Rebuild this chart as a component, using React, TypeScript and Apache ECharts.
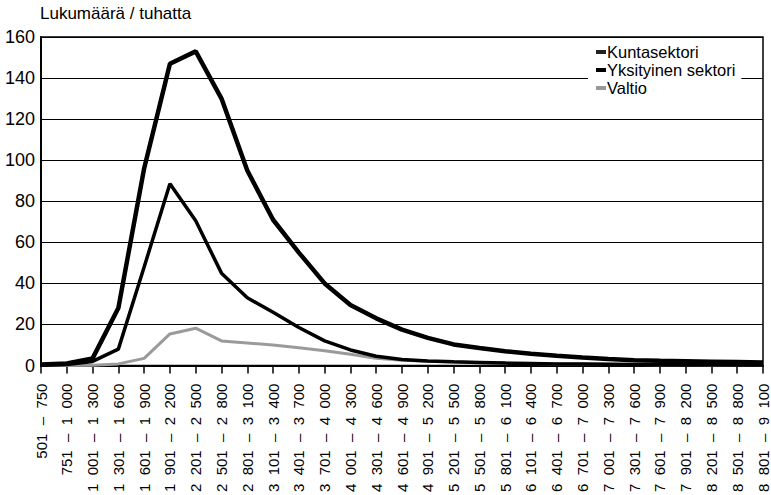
import React, { useEffect, useRef } from "react";
import * as echarts from "echarts";

const FS = "\u2007"; // thousands separator (figure space)
const lab = (a: string, b: string) => `${a}${FS}–${FS}${b}`;

const categories = [
  lab("501", "750"),
  lab("751", `1${FS}000`),
  lab(`1${FS}001`, `1${FS}300`),
  lab(`1${FS}301`, `1${FS}600`),
  lab(`1${FS}601`, `1${FS}900`),
  lab(`1${FS}901`, `2${FS}200`),
  lab(`2${FS}201`, `2${FS}500`),
  lab(`2${FS}501`, `2${FS}800`),
  lab(`2${FS}801`, `3${FS}100`),
  lab(`3${FS}101`, `3${FS}400`),
  lab(`3${FS}401`, `3${FS}700`),
  lab(`3${FS}701`, `4${FS}000`),
  lab(`4${FS}001`, `4${FS}300`),
  lab(`4${FS}301`, `4${FS}600`),
  lab(`4${FS}601`, `4${FS}900`),
  lab(`4${FS}901`, `5${FS}200`),
  lab(`5${FS}201`, `5${FS}500`),
  lab(`5${FS}501`, `5${FS}800`),
  lab(`5${FS}801`, `6${FS}100`),
  lab(`6${FS}101`, `6${FS}400`),
  lab(`6${FS}401`, `6${FS}700`),
  lab(`6${FS}701`, `7${FS}000`),
  lab(`7${FS}001`, `7${FS}300`),
  lab(`7${FS}301`, `7${FS}600`),
  lab(`7${FS}601`, `7${FS}900`),
  lab(`7${FS}901`, `8${FS}200`),
  lab(`8${FS}201`, `8${FS}500`),
  lab(`8${FS}501`, `8${FS}800`),
  lab(`8${FS}801`, `9${FS}100`),
];

const kuntasektori = [0.2, 0.5, 2, 8, 48, 88.5, 70.5, 45, 33, 26, 18.5, 12, 7.6, 4.5, 3, 2.2, 1.8, 1.5, 1.2, 1, 0.8, 0.7, 0.6, 0.5, 0.5, 0.4, 0.4, 0.3, 0.3];
const yksityinen = [0.5, 1, 3.5, 28, 96, 147, 153, 130, 95, 71, 55, 40, 29.5, 23, 17.5, 13.5, 10.3, 8.5, 7, 5.8, 4.8, 3.9, 3.2, 2.6, 2.3, 2.1, 1.9, 1.7, 1.5];
const valtio = [0, 0, 0.2, 0.8, 3.5, 15.4, 18.2, 12, 11, 10, 8.7, 7.2, 5.5, 3.5, 2.6, 2.1, 1.7, 1.4, 1.2, 1, 0.8, 0.7, 0.6, 0.5, 0.4, 0.4, 0.3, 0.3, 0.3];

const yTicks = { min: 0, max: 160, interval: 20 };
const FONT = "'Liberation Sans', Arial, sans-serif";

export default function App() {
  const ref = useRef<HTMLDivElement>(null);
  useEffect(() => {
    if (!ref.current) return;
    const chart = echarts.init(ref.current, null, { renderer: "svg" });
    chart.setOption({
      animation: false,
      backgroundColor: "#fff",
      textStyle: { fontFamily: FONT },
      grid: { left: 41, right: 8, top: 37, bottom: 127, show: true, borderColor: "#000", borderWidth: 1.5, containLabel: false },
      graphic: [
        { type: "text", left: 40, top: 5, style: { text: "Lukumäärä / tuhatta", font: `17px ${FONT}`, fill: "#000" } },
      ],
      legend: {
        orient: "vertical",
        left: 588,
        top: 42,
        backgroundColor: "#fff",
        padding: [1, 6, 1, 8],
        itemGap: 0,
        itemWidth: 10,
        itemHeight: 4,
        textStyle: { fontFamily: FONT, fontSize: 16.5, lineHeight: 18, color: "#000", padding: [0, 0, 0, -4] },
        data: [
          { name: "Kuntasektori", icon: "rect", itemStyle: { color: "#222" } },
          { name: "Yksityinen sektori", icon: "rect", itemStyle: { color: "#000" } },
          { name: "Valtio", icon: "rect", itemStyle: { color: "#999" } },
        ],
      },
      xAxis: {
        type: "category",
        data: categories,
        boundaryGap: false,
        axisLine: { lineStyle: { color: "#000", width: 2 } },
        axisTick: { show: true, length: 8, lineStyle: { color: "#000", width: 1.5 } },
        axisLabel: { rotate: 90, interval: 0, margin: 18, fontSize: 15, color: "#000", fontFamily: FONT },
        splitLine: { show: false },
      },
      yAxis: {
        type: "value",
        ...yTicks,
        axisLine: { show: true, lineStyle: { color: "#000", width: 2 } },
        axisTick: { show: false },
        axisLabel: { fontSize: 18, color: "#000", margin: 6, fontFamily: FONT },
        splitLine: { lineStyle: { color: "#000", width: 1.2 } },
      },
      series: [
        {
          name: "Kuntasektori",
          type: "line",
          data: kuntasektori,
          symbol: "none",
          lineStyle: { color: "#000", width: 3.5 },
          itemStyle: { color: "#222" },
          z: 3,
        },
        {
          name: "Yksityinen sektori",
          type: "line",
          data: yksityinen,
          symbol: "none",
          lineStyle: { color: "#000", width: 4.5 },
          itemStyle: { color: "#000" },
          z: 4,
        },
        {
          name: "Valtio",
          type: "line",
          data: valtio,
          symbol: "none",
          lineStyle: { color: "#9a9a9a", width: 3 },
          itemStyle: { color: "#999" },
          z: 2,
        },
      ],
    });
    return () => chart.dispose();
  }, []);
  return <div ref={ref} style={{ width: 771, height: 495, position: "absolute", left: 0, top: 0 }} />;
}
